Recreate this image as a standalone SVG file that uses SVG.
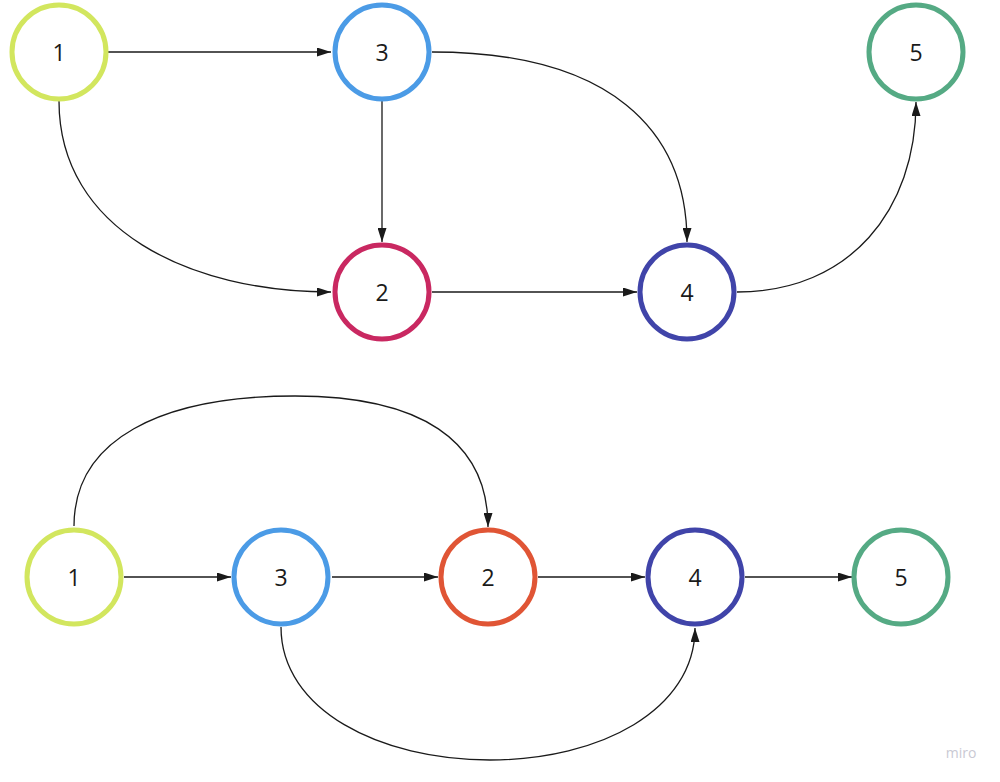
<svg xmlns="http://www.w3.org/2000/svg" width="1000" height="782" viewBox="0 0 1000 782">
<defs>
<marker id="ah" viewBox="0 0 14 9" refX="14" refY="4.5" markerWidth="14" markerHeight="9" markerUnits="userSpaceOnUse" orient="auto">
<path d="M0,0 L14,4.5 L0,9 Z" fill="#1a1a1a"/>
</marker>
<style>
.n{fill:#fff;stroke-width:5}
.t{font-family:"Open Sans","Noto Sans",sans-serif;font-size:23px;fill:#1a1a1a;text-anchor:middle;dominant-baseline:central}
.e{fill:none;stroke:#1a1a1a;stroke-width:1.3;marker-end:url(#ah)}
</style>
</defs>
<rect width="1000" height="782" fill="#fff"/>
<g id="connectors">
<path class="e" d="M108,52 L331,52"/>
<path class="e" d="M59,101 C59,230 190,292 331,292"/>
<path class="e" d="M382,101 L382,242"/>
<path class="e" d="M432,52 C610,52 687,130 687,242"/>
<path class="e" d="M432,292 L637,292"/>
<path class="e" d="M737,292 C850,292 916,210 916,102"/>
<path class="e" d="M74,526 C74,440 160,396 295,396 C420,396 488,440 488,527"/>
<path class="e" d="M124,577 L231,577"/>
<path class="e" d="M332,577 L438,577"/>
<path class="e" d="M538,577 L645,577"/>
<path class="e" d="M745,577 L852,577"/>
<path class="e" d="M281,627 C281,710 380,760 490,760 C600,760 695,710 695,628"/>
</g>
<g id="t1"><circle class="n" cx="59" cy="52" r="47" stroke="#d2e65e"/><text class="t" x="59" y="52">1</text></g>
<g id="t3"><circle class="n" cx="382" cy="52" r="47" stroke="#4b9be6"/><text class="t" x="382" y="52">3</text></g>
<g id="t5"><circle class="n" cx="916" cy="52" r="47" stroke="#55aa84"/><text class="t" x="916" y="52">5</text></g>
<g id="t2"><circle class="n" cx="382" cy="292" r="47" stroke="#c92861"/><text class="t" x="382" y="292">2</text></g>
<g id="t4"><circle class="n" cx="687" cy="292" r="47" stroke="#4044a9"/><text class="t" x="687" y="292">4</text></g>
<g id="b1"><circle class="n" cx="74" cy="577" r="47" stroke="#d2e65e"/><text class="t" x="74" y="577">1</text></g>
<g id="b3"><circle class="n" cx="281" cy="577" r="47" stroke="#4b9be6"/><text class="t" x="281" y="577">3</text></g>
<g id="b2"><circle class="n" cx="488" cy="577" r="47" stroke="#e05535"/><text class="t" x="488" y="577">2</text></g>
<g id="b4"><circle class="n" cx="695" cy="577" r="47" stroke="#4044a9"/><text class="t" x="695" y="577">4</text></g>
<g id="b5"><circle class="n" cx="901" cy="577" r="47" stroke="#55aa84"/><text class="t" x="901" y="577">5</text></g>
<text x="961" y="758" font-family="Open Sans, sans-serif" font-size="14" fill="#c9c9d3" text-anchor="middle">miro</text>
</svg>
